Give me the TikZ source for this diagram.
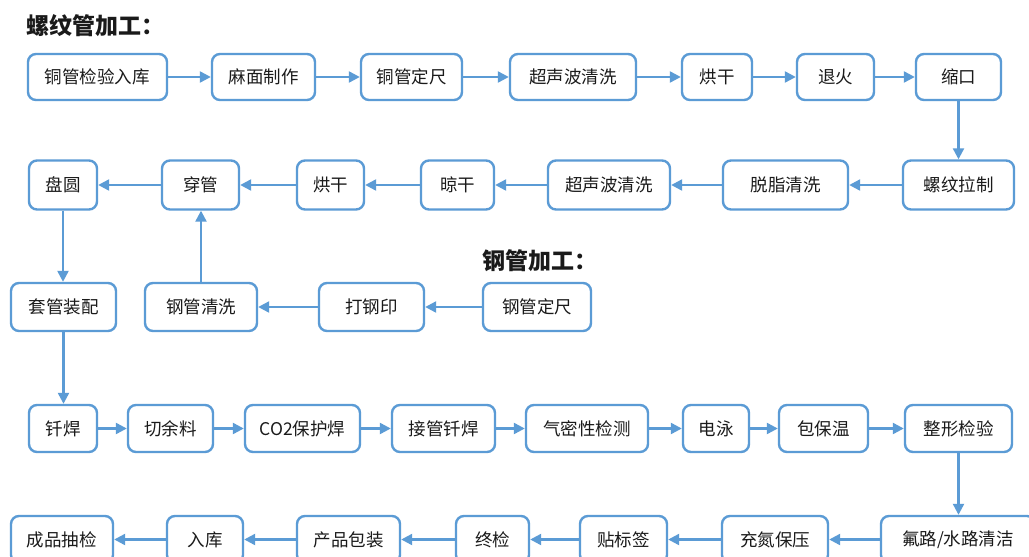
\documentclass[tikz,border=0pt]{standalone}
\usepackage{fontspec}
\newfontfamily\cjk{Noto Sans CJK SC}
\usetikzlibrary{arrows.meta}
\definecolor{lineblue}{HTML}{5B9BD5}
\definecolor{txt}{HTML}{1A1A1A}
\newcommand{\bx}[6]{\node[stepbox, minimum width=#3-#2, minimum height=#5] (#1) at ({(#2+#3)/2},#4) {#6};}
\tikzset{
  stepbox/.style={draw=lineblue, line width=2.4pt, rounded corners=8pt, inner sep=0pt, text=txt, font=\cjk\fontsize{17.5}{17.5}\selectfont},
  flow/.style={draw=lineblue, line width=2.3pt, -{Triangle[length=11pt,width=11pt]}},
  ttl/.style={inner sep=0pt, anchor=west, text=txt, font=\cjk\bfseries\fontsize{23}{23}\selectfont}
}
\begin{document}
\begin{tikzpicture}[x=1pt,y=-1pt]
\useasboundingbox (0,0) rectangle (1029,557);
\clip (0,0) rectangle (1029,557);
\fill[white] (0,0) rectangle (1029,557);
\node[ttl] (t1) at (26,26) {螺纹管加工：};
\node[ttl] (t2) at (482,261) {钢管加工：};
% row 1
\bx{a1}{28}{167}{77}{46}{铜管检验入库}
\bx{a2}{212}{315}{77}{46}{麻面制作}
\bx{a3}{361}{462}{77}{46}{铜管定尺}
\bx{a4}{510}{636}{77}{46}{超声波清洗}
\bx{a5}{682}{752}{77}{46}{烘干}
\bx{a6}{797}{874}{77}{46}{退火}
\bx{a7}{916}{1001}{77}{46}{缩口}
% row 2
\bx{b7}{903}{1014}{185}{49}{螺纹拉制}
\bx{b6}{723}{848}{185}{49}{脱脂清洗}
\bx{b5}{548}{670}{185}{49}{超声波清洗}
\bx{b4}{421}{494}{185}{49}{晾干}
\bx{b3}{297}{364}{185}{49}{烘干}
\bx{b2}{162}{239}{185}{49}{穿管}
\bx{b1}{29}{97}{185}{49}{盘圆}
% row 3
\bx{c1}{11}{116}{307}{48}{套管装配}
\bx{c2}{145}{257}{307}{48}{钢管清洗}
\bx{c3}{319}{424}{307}{48}{打钢印}
\bx{c4}{483}{591}{307}{48}{钢管定尺}
% row 4
\bx{d1}{29}{97}{428.5}{47}{钎焊}
\bx{d2}{128}{213}{428.5}{47}{切余料}
\bx{d3}{245}{360}{428.5}{47}{CO2保护焊}
\bx{d4}{392}{495}{428.5}{47}{接管钎焊}
\bx{d5}{526}{648}{428.5}{47}{气密性检测}
\bx{d6}{683}{749}{428.5}{47}{电泳}
\bx{d7}{779}{868}{428.5}{47}{包保温}
\bx{d8}{905}{1012}{428.5}{47}{整形检验}
% row 5
\bx{e1}{11}{113}{539.5}{47}{成品抽检}
\bx{e2}{167}{243}{539.5}{47}{入库}
\bx{e3}{297}{400}{539.5}{47}{产品包装}
\bx{e4}{456}{529}{539.5}{47}{终检}
\bx{e5}{580}{667}{539.5}{47}{贴标签}
\bx{e6}{722}{828}{539.5}{47}{充氮保压}
\bx{e7}{881}{1035}{539.5}{47}{氟路/水路清洁}
% connectors row 1
\draw[flow] (a1) -- (a2);
\draw[flow] (a2) -- (a3);
\draw[flow] (a3) -- (a4);
\draw[flow] (a4) -- (a5);
\draw[flow] (a5) -- (a6);
\draw[flow] (a6) -- (a7);
\draw[flow] (a7.south) -- (a7.south |- b7.north);
% row 2
\draw[flow] (b7) -- (b6);
\draw[flow] (b6) -- (b5);
\draw[flow] (b5) -- (b4);
\draw[flow] (b4) -- (b3);
\draw[flow] (b3) -- (b2);
\draw[flow] (b2) -- (b1);
\draw[flow] (b1.south) -- (b1.south |- c1.north);
% row 3
\draw[flow] (c4) -- (c3);
\draw[flow] (c3) -- (c2);
\draw[flow] (c2.north) -- (c2.north |- b2.south);
\draw[flow] (c1.south) -- (c1.south |- d1.north);
% row 4
\draw[flow] (d1) -- (d2);
\draw[flow] (d2) -- (d3);
\draw[flow] (d3) -- (d4);
\draw[flow] (d4) -- (d5);
\draw[flow] (d5) -- (d6);
\draw[flow] (d6) -- (d7);
\draw[flow] (d7) -- (d8);
\draw[flow] (d8.south) -- (d8.south |- e7.north);
% row 5
\draw[flow] (e7) -- (e6);
\draw[flow] (e6) -- (e5);
\draw[flow] (e5) -- (e4);
\draw[flow] (e4) -- (e3);
\draw[flow] (e3) -- (e2);
\draw[flow] (e2) -- (e1);
\end{tikzpicture}
\end{document}
